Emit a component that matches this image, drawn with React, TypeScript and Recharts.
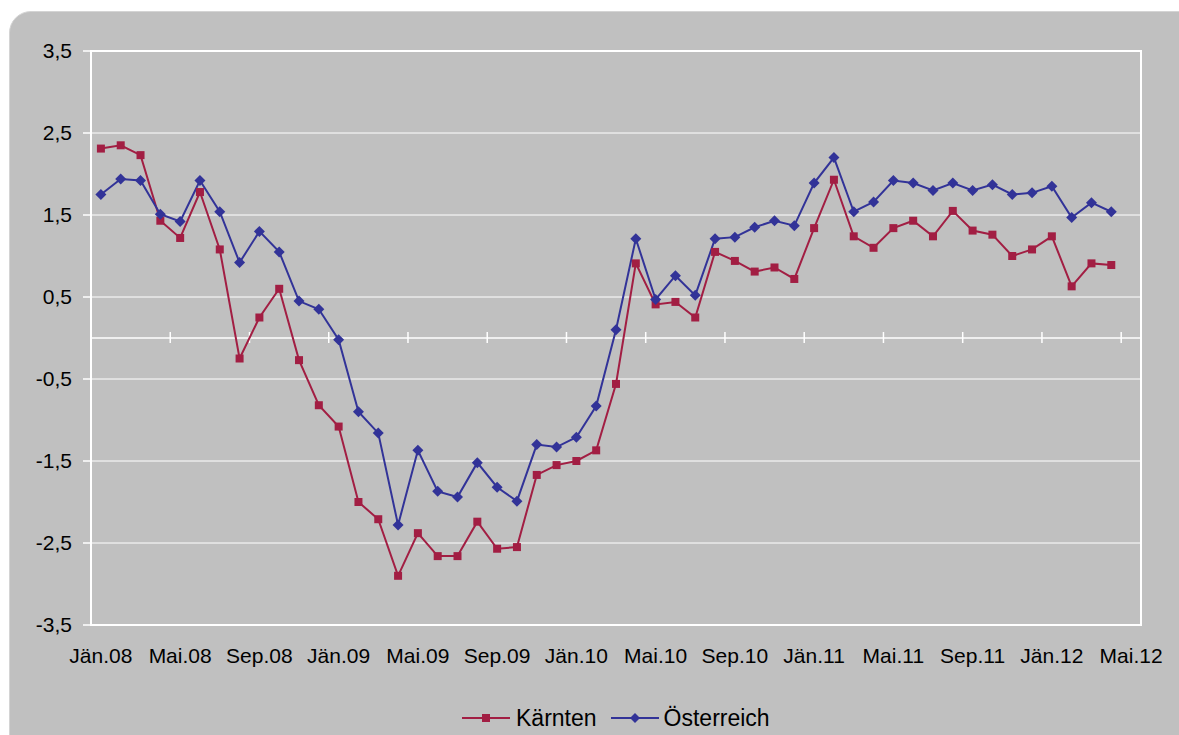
import React from "react";
import {
  CartesianGrid,
  Legend,
  Line,
  LineChart,
  ReferenceArea,
  ReferenceLine,
  XAxis,
  YAxis,
} from "recharts";

const monthNames = ["Jän", "Feb", "Mär", "Apr", "Mai", "Jun", "Jul", "Aug", "Sep", "Okt", "Nov", "Dez"];
const years = ["08", "09", "10", "11", "12"];
const months = years.flatMap((y) => monthNames.map((m) => `${m}.${y}`)).slice(0, 53);

const kaernten = [
  2.31, 2.35, 2.23, 1.43, 1.22, 1.78, 1.08, -0.25, 0.25, 0.6,
  -0.27, -0.82, -1.08, -2.0, -2.21, -2.9, -2.38, -2.66, -2.66, -2.24,
  -2.57, -2.55, -1.67, -1.55, -1.5, -1.37, -0.56, 0.91, 0.41, 0.44,
  0.25, 1.05, 0.94, 0.81, 0.86, 0.72, 1.34, 1.93, 1.24, 1.1,
  1.34, 1.43, 1.24, 1.55, 1.31, 1.26, 1.0, 1.08, 1.24, 0.63,
  0.91, 0.89,
];

const oesterreich = [
  1.75, 1.94, 1.92, 1.51, 1.42, 1.92, 1.54, 0.92, 1.3, 1.05,
  0.45, 0.35, -0.02, -0.9, -1.16, -2.28, -1.37, -1.87, -1.94, -1.52,
  -1.82, -1.99, -1.3, -1.33, -1.21, -0.83, 0.1, 1.21, 0.47, 0.76,
  0.52, 1.21, 1.23, 1.35, 1.43, 1.37, 1.89, 2.2, 1.54, 1.66,
  1.92, 1.89, 1.8, 1.89, 1.8, 1.87, 1.75, 1.77, 1.85, 1.47,
  1.65, 1.54,
];

const yTicks = [3.5, 2.5, 1.5, 0.5, -0.5, -1.5, -2.5, -3.5];

const RED = "#A21E43";
const BLUE = "#323398";
const FONT = "'Liberation Sans', Arial, sans-serif";

const data = months.map((month, i) => ({
  month,
  kaernten: kaernten[i] ?? null,
  oesterreich: oesterreich[i] ?? null,
}));

const SquareDot = (props: any) => {
  const { cx, cy, index } = props;
  if (cx == null || cy == null) return <g key={index} />;
  return <rect key={index} x={cx - 4} y={cy - 4} width={8} height={8} fill={RED} />;
};

const DiamondDot = (props: any) => {
  const { cx, cy, index } = props;
  if (cx == null || cy == null) return <g key={index} />;
  const r = 5.5;
  return (
    <polygon
      key={index}
      points={`${cx},${cy - r} ${cx + r},${cy} ${cx},${cy + r} ${cx - r},${cy}`}
      fill={BLUE}
    />
  );
};

// zero line with category tick marks every 4 months
const ZeroAxis = (props: any) => {
  const { x1, x2, y1 } = props;
  const n = months.length;
  const step = (x2 - x1) / n;
  const marks = [];
  for (let k = 4; k <= n; k += 4) {
    const x = x1 + step * k;
    marks.push(<line key={k} x1={x} x2={x} y1={y1 - 6} y2={y1 + 5} stroke="#fff" strokeWidth={1.5} />);
  }
  return (
    <g>
      <line x1={x1} x2={x2} y1={y1} y2={y1} stroke="#fff" strokeWidth={1.5} />
      {marks}
    </g>
  );
};

const MonthTick = (props: any) => {
  const { x, y, payload } = props;
  return (
    <text x={x} y={y} dy={30} textAnchor="middle" fill="#000" fontSize={21} fontFamily={FONT}>
      {payload.value}
    </text>
  );
};

const LegendContent = () => (
  <div style={{ display: "flex", alignItems: "center", fontFamily: FONT, fontSize: 23, color: "#000", height: 30 }}>
    <svg width={48} height={12} style={{ marginRight: 6 }}>
      <line x1={0} x2={48} y1={6} y2={6} stroke={RED} strokeWidth={2} />
      <rect x={20} y={2} width={8} height={8} fill={RED} />
    </svg>
    <span style={{ marginRight: 14 }}>Kärnten</span>
    <svg width={48} height={12} style={{ marginRight: 5 }}>
      <line x1={0} x2={48} y1={6} y2={6} stroke={BLUE} strokeWidth={2} />
      <polygon points="24,1 29,6 24,11 19,6" fill={BLUE} />
    </svg>
    <span>Österreich</span>
  </div>
);

export default function App() {
  return (
    <div style={{ position: "fixed", left: 0, top: 0, width: 1179, height: 735, overflow: "hidden", background: "#fff" }}>
      <div
        style={{
          position: "absolute",
          left: 9,
          top: 11,
          width: 1200,
          height: 760,
          background: "#c0c0c0",
          border: "1px solid #d4d4d4",
          borderRadius: 22,
        }}
      />
      <div style={{ position: "absolute", left: 0, top: 0 }}>
        <LineChart width={1179} height={735} data={data} margin={{ top: 51, right: 38, left: 31, bottom: 2 }}>
          <CartesianGrid horizontal vertical={false} stroke="#fff" strokeWidth={1} />
          <ReferenceArea y1={-3.5} y2={3.5} fill="none" stroke="#fff" strokeWidth={2} />
          <ReferenceLine y={0} shape={ZeroAxis} />
          <XAxis
            dataKey="month"
            scale="band"
            interval={3}
            axisLine={false}
            tickLine={false}
            height={78}
            tick={<MonthTick />}
          />
          <YAxis
            domain={[-3.5, 3.5]}
            ticks={yTicks}
            width={60}
            axisLine={{ stroke: "#fff", strokeWidth: 2 }}
            tickLine={{ stroke: "#fff", strokeWidth: 1.5 }}
            tickSize={8}
            tickMargin={11}
            tickFormatter={(v: number) => v.toFixed(1).replace(".", ",")}
            tick={{ fill: "#000", fontSize: 21, fontFamily: FONT }}
          />
          <Legend verticalAlign="bottom" content={<LegendContent />} wrapperStyle={{ left: 462, bottom: 2, height: 30, width: 340 }} />
          <Line
            dataKey="kaernten"
            name="Kärnten"
            stroke={RED}
            strokeWidth={2}
            dot={SquareDot}
            activeDot={false}
            isAnimationActive={false}
          />
          <Line
            dataKey="oesterreich"
            name="Österreich"
            stroke={BLUE}
            strokeWidth={2}
            dot={DiamondDot}
            activeDot={false}
            isAnimationActive={false}
          />
        </LineChart>
      </div>
    </div>
  );
}
